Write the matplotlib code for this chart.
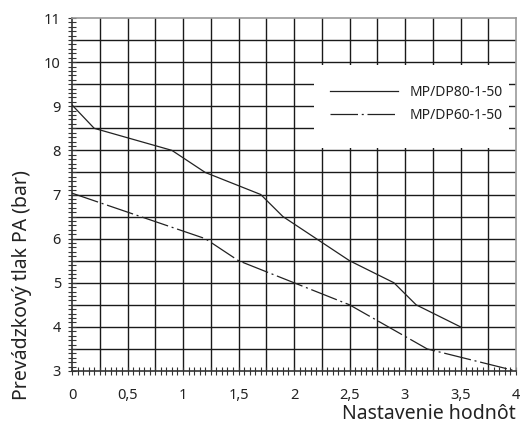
import matplotlib
matplotlib.use("Agg")
import matplotlib.pyplot as plt
from matplotlib.ticker import MultipleLocator, FixedLocator, FuncFormatter
from matplotlib.lines import Line2D
from matplotlib.patches import Rectangle

plt.rcParams['font.family'] = ['Noto Sans', 'DejaVu Sans']

# Operating pressure curves
x_dp80 = [0.0, 0.2, 0.9, 1.2, 1.7, 1.9, 2.5, 2.9, 3.1, 3.5]
y_dp80 = [9.03, 8.5, 8.0, 7.5, 7.0, 6.5, 5.5, 5.0, 4.5, 4.0]
x_dp60 = [0.0, 1.2, 1.5, 2.0, 2.5, 3.2, 4.0]
y_dp60 = [7.03, 6.0, 5.5, 5.0, 4.5, 3.5, 3.0]
series_names = ["MP/DP80-1-50", "MP/DP60-1-50"]

x_ticks = [0, 0.5, 1, 1.5, 2, 2.5, 3, 3.5, 4]
y_ticks = [3, 4, 5, 6, 7, 8, 9, 10, 11]

fig = plt.figure(figsize=(5.23, 4.26), dpi=100)
ax = fig.add_axes([72/523, 1-371/426, 444/523, 353/426])

dashdot = (0, (22, 3, 1.6, 3))
ax.plot(x_dp80, y_dp80, color='#222222', lw=0.9, zorder=3)
ax.plot(x_dp60, y_dp60, color='#222222', lw=0.9, linestyle=dashdot, zorder=3)

ax.set_xlim(0, 4)
ax.set_ylim(3, 11)

# grid lines
for gx in [i*0.25 for i in range(1, 16)]:
    ax.axvline(gx, color='#1a1a1a', lw=1.0, zorder=1)
for gy in [3 + i*0.5 for i in range(1, 16)]:
    ax.axhline(gy, color='#1a1a1a', lw=1.0, zorder=1)

# white panel behind the legend, leaving short grid stubs around it
ax.add_patch(Rectangle((2.18, 8.06), 1.76, 1.88, facecolor='white',
                       edgecolor='none', zorder=2))

ax.xaxis.set_major_locator(FixedLocator(x_ticks))
ax.yaxis.set_major_locator(FixedLocator(y_ticks))
ax.xaxis.set_minor_locator(MultipleLocator(0.05))
ax.yaxis.set_minor_locator(MultipleLocator(0.1))
fmt = FuncFormatter(lambda v, p: (f"{v:g}").replace('.', ','))
ax.xaxis.set_major_formatter(fmt)
ax.yaxis.set_major_formatter(fmt)
ax.tick_params(axis='both', which='both', direction='inout', color='#333333', width=0.8)
ax.tick_params(axis='both', which='major', length=6, labelsize=10.5, labelcolor='#222222')
ax.tick_params(axis='both', which='minor', length=6)
ax.tick_params(axis='x', which='major', pad=9)
ax.tick_params(axis='y', which='major', pad=5)

for s in ax.spines.values():
    s.set_color('#999999')
    s.set_linewidth(1.2)
ax.spines['left'].set_color('#333333')
ax.spines['bottom'].set_color('#333333')

handles = [Line2D([], [], color='#222222', lw=0.9),
           Line2D([], [], color='#222222', lw=0.9, linestyle=dashdot)]
leg = ax.legend(handles, series_names, loc='center',
                bbox_to_anchor=(0.775, 0.757), frameon=False, fontsize=10,
                handlelength=4.9, handletextpad=0.85, borderaxespad=0,
                borderpad=0, labelspacing=0.6)
leg.set_zorder(5)
for t in leg.get_texts():
    t.set_color('#222222')

fig.text(22/523, 1-285/426, "Prevádzkový tlak PA (bar)", rotation=90,
         ha='center', va='center', fontsize=14, color='#222222')
fig.text(516/523, 1-414/426, "Nastavenie hodnôt", ha='right', va='center',
         fontsize=14, color='#222222')

fig.savefig("out.png", dpi=100)
